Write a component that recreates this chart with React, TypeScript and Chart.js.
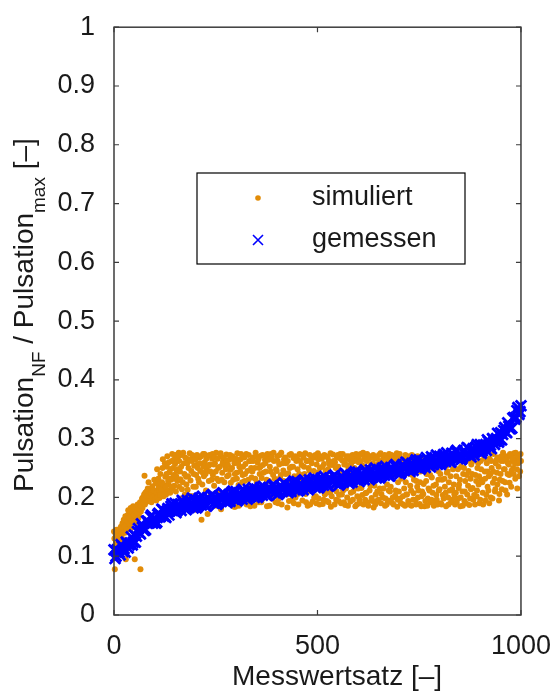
import React, { useEffect, useRef } from "react";
import { Chart, registerables } from "chart.js";

Chart.register(...registerables);

// ---------- data ----------
const xTickValues = [0, 500, 1000];
const yTickValues = [0, 0.1, 0.2, 0.3, 0.4, 0.5, 0.6, 0.7, 0.8, 0.9, 1];

const xTitle = "Messwertsatz [–]";
const legendLabels = ["simuliert", "gemessen"];

// measured values, one per 5 Messwertsätze (0, 5, 10, ... 1000)
const gemessenStep = 5;
const gemessen = [
  0.111, 0.100, 0.109, 0.102, 0.117, 0.113, 0.124, 0.114, 0.123, 0.119,
  0.136, 0.134, 0.147, 0.138, 0.149, 0.144, 0.160, 0.156, 0.167, 0.156,
  0.165, 0.158, 0.173, 0.168, 0.179, 0.168, 0.177, 0.170, 0.185, 0.179,
  0.190, 0.178, 0.186, 0.178, 0.192, 0.186, 0.195, 0.183, 0.191, 0.182,
  0.196, 0.190, 0.199, 0.187, 0.194, 0.186, 0.200, 0.193, 0.203, 0.190,
  0.198, 0.190, 0.203, 0.197, 0.206, 0.194, 0.202, 0.193, 0.207, 0.200,
  0.210, 0.198, 0.205, 0.197, 0.210, 0.204, 0.214, 0.201, 0.209, 0.200,
  0.214, 0.207, 0.217, 0.204, 0.212, 0.204, 0.217, 0.211, 0.220, 0.208,
  0.215, 0.207, 0.220, 0.214, 0.223, 0.211, 0.218, 0.210, 0.224, 0.217,
  0.227, 0.214, 0.222, 0.213, 0.227, 0.220, 0.230, 0.218, 0.225, 0.217,
  0.230, 0.224, 0.233, 0.221, 0.228, 0.220, 0.233, 0.227, 0.236, 0.224,
  0.231, 0.223, 0.236, 0.230, 0.240, 0.227, 0.235, 0.226, 0.240, 0.233,
  0.243, 0.231, 0.238, 0.230, 0.243, 0.237, 0.247, 0.234, 0.242, 0.233,
  0.247, 0.241, 0.250, 0.238, 0.246, 0.237, 0.251, 0.245, 0.254, 0.242,
  0.250, 0.242, 0.256, 0.249, 0.259, 0.247, 0.255, 0.246, 0.260, 0.254,
  0.264, 0.252, 0.259, 0.251, 0.265, 0.259, 0.269, 0.256, 0.264, 0.256,
  0.270, 0.264, 0.273, 0.261, 0.269, 0.261, 0.275, 0.268, 0.278, 0.266,
  0.274, 0.266, 0.280, 0.274, 0.284, 0.272, 0.280, 0.272, 0.286, 0.280,
  0.290, 0.279, 0.287, 0.280, 0.295, 0.289, 0.300, 0.290, 0.300, 0.294,
  0.310, 0.307, 0.319, 0.310, 0.321, 0.317, 0.335, 0.333, 0.348, 0.341,
  0.356,
];

// measured values in between (2.5, 7.5, ... 997.5)
const gemessenZwischen = [
  0.096, 0.111, 0.107, 0.120, 0.108, 0.107, 0.122, 0.119, 0.133, 0.124,
  0.124, 0.142, 0.140, 0.155, 0.145, 0.145, 0.160, 0.157, 0.170, 0.158,
  0.156, 0.171, 0.167, 0.180, 0.168, 0.166, 0.181, 0.177, 0.189, 0.177,
  0.174, 0.188, 0.183, 0.195, 0.182, 0.179, 0.192, 0.187, 0.199, 0.185,
  0.182, 0.196, 0.190, 0.202, 0.188, 0.185, 0.199, 0.193, 0.205, 0.191,
  0.188, 0.202, 0.196, 0.208, 0.194, 0.191, 0.205, 0.199, 0.211, 0.197,
  0.194, 0.208, 0.202, 0.214, 0.200, 0.197, 0.211, 0.205, 0.217, 0.203,
  0.200, 0.213, 0.208, 0.219, 0.206, 0.203, 0.216, 0.211, 0.222, 0.209,
  0.205, 0.219, 0.213, 0.225, 0.211, 0.208, 0.221, 0.216, 0.228, 0.214,
  0.211, 0.224, 0.219, 0.230, 0.217, 0.213, 0.227, 0.222, 0.233, 0.220,
  0.216, 0.230, 0.224, 0.236, 0.222, 0.219, 0.232, 0.227, 0.238, 0.225,
  0.221, 0.235, 0.229, 0.241, 0.228, 0.224, 0.238, 0.232, 0.244, 0.230,
  0.227, 0.241, 0.235, 0.247, 0.233, 0.230, 0.244, 0.238, 0.250, 0.236,
  0.233, 0.247, 0.241, 0.253, 0.240, 0.236, 0.250, 0.245, 0.256, 0.243,
  0.240, 0.254, 0.249, 0.260, 0.247, 0.244, 0.258, 0.252, 0.264, 0.251,
  0.248, 0.262, 0.256, 0.268, 0.255, 0.252, 0.266, 0.260, 0.272, 0.259,
  0.256, 0.270, 0.264, 0.276, 0.263, 0.260, 0.274, 0.268, 0.280, 0.267,
  0.264, 0.278, 0.273, 0.285, 0.272, 0.269, 0.283, 0.278, 0.290, 0.277,
  0.275, 0.289, 0.285, 0.298, 0.285, 0.283, 0.298, 0.295, 0.309, 0.298,
  0.298, 0.314, 0.312, 0.327, 0.317, 0.318, 0.336, 0.336, 0.353, 0.346,
];

// simulated values: [Messwertsatz, value]
const simuliertStart: [number, number][] = [
  [0, 0.142], [2, 0.078], [3, 0.118], [5, 0.125], [6, 0.145], [8, 0.132], [10, 0.128],
  [12, 0.138], [14, 0.125], [15, 0.135], [18, 0.142], [20, 0.130], [22, 0.148], [25, 0.155],
  [27, 0.140], [29, 0.095], [30, 0.162], [32, 0.150], [34, 0.170], [36, 0.158], [38, 0.176],
  [40, 0.165], [42, 0.148], [44, 0.172], [46, 0.180], [48, 0.162], [50, 0.175], [51, 0.095],
  [53, 0.168], [55, 0.182], [57, 0.157], [59, 0.178], [61, 0.170], [63, 0.185], [65, 0.078],
  [66, 0.176], [68, 0.190], [70, 0.182],
  [1, 0.130], [4, 0.138], [7, 0.120], [9, 0.142], [11, 0.134], [13, 0.146], [16, 0.128],
  [17, 0.150], [19, 0.138], [21, 0.156], [23, 0.140], [24, 0.162], [26, 0.150], [28, 0.168],
  [31, 0.145], [33, 0.160], [35, 0.178], [37, 0.166], [39, 0.155], [41, 0.182], [43, 0.160],
  [45, 0.175], [47, 0.185], [49, 0.170], [52, 0.180], [54, 0.160], [56, 0.175], [58, 0.188],
  [60, 0.165], [62, 0.180], [64, 0.192], [67, 0.186], [69, 0.198],
];

const simuliertRise: [number, number][] = [
  [72, 0.195], [74, 0.205], [75, 0.237], [76, 0.188], [78, 0.199], [80, 0.210], [82, 0.193],
  [84, 0.203], [85, 0.226], [86, 0.196], [88, 0.212], [90, 0.200], [92, 0.192], [94, 0.219],
  [95, 0.206], [97, 0.197], [99, 0.230], [100, 0.203], [102, 0.212], [104, 0.195], [106, 0.248],
  [108, 0.205], [110, 0.218], [112, 0.199], [114, 0.240], [116, 0.208], [118, 0.226], [120, 0.265],
  [122, 0.202], [124, 0.214], [126, 0.235], [128, 0.205], [130, 0.252], [132, 0.212], [134, 0.222],
  [136, 0.243], [138, 0.208], [140, 0.230], [142, 0.262], [144, 0.215], [146, 0.238], [148, 0.220],
  [150, 0.257], [152, 0.210], [154, 0.245], [156, 0.228], [158, 0.270], [160, 0.218],
  [71, 0.200], [73, 0.190], [77, 0.208], [79, 0.196], [81, 0.202], [83, 0.215], [87, 0.200],
  [89, 0.194], [91, 0.208], [93, 0.200], [96, 0.212], [98, 0.202], [101, 0.196], [103, 0.224],
  [105, 0.207], [107, 0.200], [109, 0.232], [111, 0.210], [113, 0.204], [115, 0.225], [117, 0.214],
  [119, 0.250], [121, 0.222], [123, 0.206], [125, 0.258], [127, 0.218], [129, 0.240], [131, 0.270],
  [133, 0.228], [135, 0.260], [137, 0.232], [139, 0.248], [141, 0.218], [143, 0.274], [145, 0.250],
  [147, 0.264], [149, 0.232], [151, 0.272], [153, 0.236], [155, 0.262], [157, 0.248], [159, 0.276],
];

const simuliertBand: [number, number][] = [
  [162, 0.244], [164, 0.198], [166, 0.272], [169, 0.226], [172, 0.258], [174, 0.205], [177, 0.235], [179, 0.266],
  [181, 0.213], [183, 0.250], [186, 0.275], [188, 0.229], [191, 0.262], [193, 0.202], [196, 0.240], [198, 0.270],
  [201, 0.218], [203, 0.255], [205, 0.178], [207, 0.232], [210, 0.268], [212, 0.245], [215, 0.162], [217, 0.222], [219, 0.274],
  [221, 0.236], [223, 0.260], [226, 0.212], [228, 0.248], [231, 0.271], [233, 0.228], [236, 0.256], [238, 0.205],
  [241, 0.266], [243, 0.238], [246, 0.220], [248, 0.258], [251, 0.276], [253, 0.232], [256, 0.250], [258, 0.210],
  [261, 0.270], [263, 0.180], [266, 0.242], [268, 0.262], [271, 0.226], [273, 0.254], [276, 0.273], [278, 0.236],
  [281, 0.214], [283, 0.264], [286, 0.247], [288, 0.190], [291, 0.270], [293, 0.230], [296, 0.258], [298, 0.184],
  [301, 0.242], [303, 0.275], [306, 0.221], [308, 0.252], [311, 0.265], [313, 0.196], [316, 0.238], [318, 0.270],
  [321, 0.228], [323, 0.257], [326, 0.188], [328, 0.245], [331, 0.272], [333, 0.218], [336, 0.262], [338, 0.234],
  [341, 0.268], [343, 0.200], [346, 0.250], [348, 0.276], [351, 0.226], [353, 0.259], [356, 0.192], [358, 0.240],
  [361, 0.271], [363, 0.233], [366, 0.255], [368, 0.207], [371, 0.264], [373, 0.244], [376, 0.185], [378, 0.268],
  [381, 0.228], [383, 0.252], [386, 0.274], [388, 0.198], [391, 0.238], [393, 0.262], [396, 0.215], [398, 0.248],
  [401, 0.270], [403, 0.190], [406, 0.256], [408, 0.233], [411, 0.276], [413, 0.203], [416, 0.246], [418, 0.265],
  [421, 0.222], [423, 0.258], [426, 0.183], [428, 0.241], [431, 0.272], [433, 0.209], [436, 0.252], [438, 0.196],
  [441, 0.267], [443, 0.236], [446, 0.200], [448, 0.262], [451, 0.248], [453, 0.188], [456, 0.274], [458, 0.213],
  [461, 0.255], [463, 0.195], [466, 0.268], [468, 0.240], [471, 0.206], [473, 0.262], [476, 0.186], [478, 0.250],
  [481, 0.272], [483, 0.211], [486, 0.258], [488, 0.193], [491, 0.245], [493, 0.268], [496, 0.202], [498, 0.256],
  [501, 0.275], [503, 0.198], [506, 0.250], [508, 0.212], [511, 0.266], [513, 0.189], [516, 0.257], [518, 0.205],
  [521, 0.270], [523, 0.194], [526, 0.248], [528, 0.262], [531, 0.208], [533, 0.184], [536, 0.255], [538, 0.273],
  [541, 0.215], [543, 0.260], [546, 0.196], [548, 0.268], [551, 0.252], [553, 0.204], [556, 0.274], [558, 0.190],
  [561, 0.263], [563, 0.212], [566, 0.256], [568, 0.187], [571, 0.270], [573, 0.200], [576, 0.248], [578, 0.265],
  [581, 0.193], [583, 0.258], [586, 0.272], [588, 0.210], [591, 0.250], [593, 0.185], [596, 0.266], [598, 0.202],
  [601, 0.260], [603, 0.196], [606, 0.274], [608, 0.216], [611, 0.254], [613, 0.188], [616, 0.268], [618, 0.207],
  [621, 0.262], [623, 0.192], [626, 0.250], [628, 0.212], [631, 0.270], [633, 0.199], [636, 0.258], [638, 0.183],
  [641, 0.266], [643, 0.205], [646, 0.194], [648, 0.256], [651, 0.272], [653, 0.215], [656, 0.190], [658, 0.262],
  [661, 0.200], [663, 0.268], [666, 0.186], [668, 0.258], [671, 0.222], [673, 0.195], [676, 0.274], [678, 0.210],
  [681, 0.264], [683, 0.191], [686, 0.235], [688, 0.270], [691, 0.203], [693, 0.256], [696, 0.184], [698, 0.226],
  [701, 0.268], [703, 0.198], [706, 0.232], [708, 0.260], [711, 0.188], [713, 0.215], [716, 0.272], [718, 0.205],
  [721, 0.246], [723, 0.194], [726, 0.266], [728, 0.220], [731, 0.186], [733, 0.238], [736, 0.207], [738, 0.262],
  [741, 0.196], [743, 0.228], [746, 0.270], [748, 0.212], [751, 0.189], [753, 0.244], [756, 0.202], [758, 0.258],
  [761, 0.223], [763, 0.185], [766, 0.265], [768, 0.240], [771, 0.198], [773, 0.215], [776, 0.250], [778, 0.192],
  [781, 0.234], [783, 0.208], [786, 0.186], [788, 0.262], [791, 0.222], [793, 0.196], [796, 0.245], [798, 0.212],
  [801, 0.255], [803, 0.190], [806, 0.230], [808, 0.204], [811, 0.268], [813, 0.218], [816, 0.185], [818, 0.242],
  [821, 0.200], [823, 0.226], [826, 0.258], [828, 0.192], [831, 0.214], [833, 0.248], [836, 0.206], [838, 0.188],
  [841, 0.236], [843, 0.265], [846, 0.198], [848, 0.222], [851, 0.185], [853, 0.252], [856, 0.210], [858, 0.240],
  [861, 0.194], [863, 0.228], [866, 0.262], [868, 0.205], [871, 0.245], [873, 0.187], [876, 0.232], [878, 0.256],
  [881, 0.216], [883, 0.196], [886, 0.268], [888, 0.238], [891, 0.202], [893, 0.250], [896, 0.222], [898, 0.190],
  [901, 0.262], [903, 0.230], [906, 0.208], [908, 0.272], [911, 0.244], [913, 0.195], [916, 0.258], [918, 0.218],
  [921, 0.236], [923, 0.266], [926, 0.200], [928, 0.250], [931, 0.225], [933, 0.274], [936, 0.210], [938, 0.258],
  [941, 0.242], [943, 0.268], [946, 0.195], [948, 0.230], [951, 0.262], [953, 0.214], [956, 0.276], [958, 0.248],
  [961, 0.226], [963, 0.270], [966, 0.205], [968, 0.258], [971, 0.238], [973, 0.274], [976, 0.218], [978, 0.262],
  [981, 0.250], [983, 0.275], [986, 0.232], [988, 0.266], [991, 0.215], [993, 0.258], [996, 0.272], [998, 0.244],
  [1000, 0.262],
];

const simuliertBand2: [number, number][] = [
  [160, 0.262], [163, 0.231], [165, 0.252], [167, 0.214], [170, 0.276], [173, 0.240], [175, 0.268], [178, 0.222],
  [180, 0.258], [182, 0.236], [185, 0.203], [187, 0.264], [190, 0.245], [192, 0.272], [195, 0.218], [197, 0.254],
  [200, 0.264], [202, 0.238], [204, 0.272], [206, 0.250], [209, 0.226], [211, 0.258], [214, 0.270], [218, 0.242],
  [220, 0.252], [222, 0.274], [225, 0.240], [227, 0.266], [230, 0.172], [232, 0.254], [235, 0.272], [237, 0.244],
  [240, 0.230], [242, 0.274], [245, 0.256], [247, 0.268], [250, 0.244], [252, 0.186], [255, 0.266], [257, 0.228],
  [260, 0.252], [262, 0.275], [265, 0.230], [267, 0.258], [270, 0.268], [272, 0.190], [275, 0.248], [277, 0.262],
  [280, 0.255], [282, 0.238], [285, 0.272], [287, 0.225], [290, 0.250], [292, 0.266], [295, 0.184], [297, 0.240],
  [300, 0.266], [302, 0.232], [305, 0.258], [307, 0.186], [310, 0.244], [312, 0.274], [315, 0.226], [317, 0.252],
  [320, 0.268], [322, 0.240], [325, 0.274], [327, 0.194], [330, 0.230], [332, 0.262], [335, 0.185], [337, 0.250],
  [340, 0.244], [342, 0.262], [345, 0.186], [347, 0.232], [350, 0.270], [352, 0.196], [355, 0.265], [357, 0.250],
  [360, 0.252], [362, 0.192], [365, 0.272], [367, 0.242], [370, 0.200], [372, 0.258], [375, 0.230], [377, 0.274],
  [380, 0.264], [382, 0.186], [385, 0.244], [387, 0.268], [390, 0.204], [392, 0.276], [395, 0.232], [397, 0.192],
  [400, 0.245], [402, 0.262], [405, 0.198], [407, 0.272], [410, 0.238], [412, 0.188], [415, 0.258], [417, 0.228],
  [420, 0.268], [422, 0.240], [425, 0.205], [427, 0.262], [430, 0.194], [432, 0.250], [435, 0.274], [437, 0.226],
  [440, 0.252], [442, 0.190], [445, 0.270], [447, 0.226], [450, 0.266], [452, 0.206], [455, 0.240], [457, 0.262],
  [460, 0.230], [462, 0.272], [465, 0.210], [467, 0.252], [470, 0.275], [472, 0.192], [475, 0.262], [477, 0.220],
  [480, 0.246], [482, 0.188], [485, 0.266], [487, 0.232], [490, 0.270], [492, 0.200], [495, 0.272], [497, 0.190],
  [500, 0.242], [502, 0.265], [505, 0.188], [507, 0.270], [510, 0.230], [512, 0.252], [515, 0.196], [517, 0.272],
  [520, 0.245], [522, 0.208], [525, 0.268], [527, 0.192], [530, 0.256], [532, 0.275], [535, 0.202], [537, 0.236],
  [540, 0.262], [542, 0.188], [545, 0.250], [547, 0.210], [550, 0.272], [552, 0.194], [555, 0.240], [557, 0.266],
  [560, 0.205], [562, 0.274], [565, 0.192], [567, 0.262], [570, 0.215], [572, 0.255], [575, 0.186], [577, 0.270],
  [580, 0.244], [582, 0.208], [585, 0.268], [587, 0.196], [590, 0.262], [592, 0.218], [595, 0.274], [597, 0.188],
  [600, 0.215], [602, 0.270], [605, 0.190], [607, 0.262], [610, 0.204], [612, 0.276], [615, 0.228], [617, 0.196],
  [620, 0.208], [622, 0.274], [625, 0.186], [627, 0.266], [630, 0.220], [632, 0.256], [635, 0.194], [637, 0.272],
  [640, 0.220], [642, 0.188], [645, 0.268], [647, 0.210], [650, 0.196], [652, 0.262], [655, 0.275], [657, 0.206],
  [660, 0.252], [662, 0.215], [665, 0.272], [667, 0.198], [670, 0.188], [672, 0.266], [675, 0.212], [677, 0.194],
  [680, 0.218], [682, 0.272], [685, 0.200], [687, 0.188], [690, 0.266], [692, 0.212], [695, 0.275], [697, 0.196],
  [700, 0.210], [702, 0.274], [705, 0.190], [707, 0.244], [710, 0.202], [712, 0.266], [715, 0.186], [717, 0.226],
  [720, 0.205], [722, 0.270], [725, 0.188], [727, 0.240], [730, 0.212], [732, 0.272], [735, 0.196], [737, 0.230],
  [740, 0.262], [742, 0.188], [745, 0.218], [747, 0.200], [750, 0.266], [752, 0.226], [755, 0.185], [757, 0.210],
  [760, 0.206], [762, 0.268], [765, 0.194], [767, 0.228], [770, 0.186], [772, 0.256], [775, 0.212], [777, 0.238],
  [780, 0.196], [782, 0.258], [785, 0.220], [787, 0.190], [790, 0.248], [792, 0.204], [795, 0.188], [797, 0.230],
  [800, 0.214], [802, 0.240], [805, 0.188], [807, 0.262], [810, 0.198], [812, 0.232], [815, 0.208], [817, 0.254],
  [820, 0.244], [822, 0.188], [825, 0.212], [827, 0.236], [830, 0.196], [832, 0.262], [835, 0.222], [837, 0.200],
  [840, 0.208], [842, 0.192], [845, 0.248], [847, 0.216], [850, 0.230], [852, 0.200], [855, 0.262], [857, 0.186],
  [860, 0.250], [862, 0.210], [865, 0.190], [867, 0.238], [870, 0.220], [872, 0.264], [875, 0.198], [877, 0.214],
  [880, 0.240], [882, 0.262], [885, 0.204], [887, 0.188], [890, 0.228], [892, 0.212], [895, 0.258], [897, 0.236],
  [900, 0.196], [902, 0.248], [905, 0.226], [907, 0.188], [910, 0.266], [912, 0.232], [915, 0.204], [917, 0.244],
  [920, 0.212], [922, 0.190], [925, 0.240], [927, 0.262], [930, 0.198], [932, 0.244], [935, 0.232], [937, 0.214],
  [940, 0.264], [942, 0.222], [945, 0.252], [947, 0.206], [950, 0.240], [952, 0.270], [955, 0.228], [957, 0.262],
  [960, 0.248], [962, 0.212], [965, 0.266], [967, 0.240], [970, 0.256], [972, 0.225], [975, 0.270], [977, 0.246],
  [980, 0.266], [982, 0.240], [985, 0.258], [987, 0.276], [990, 0.248], [992, 0.270], [995, 0.236], [997, 0.262],
  [999, 0.274],
];

// ---------- styling ----------
const ORANGE = "rgb(226,140,8)";
const BLUE = "rgb(0,0,255)";
const FRAME = "#3c3c3c";
const TEXT = "#1a1a1a";
const FONT = "'Liberation Sans', Arial, Helvetica, sans-serif";

const decorations = {
  id: "decorations",
  afterDatasetsDraw(chart: any) {
    const { ctx, chartArea, scales } = chart;
    const { left, right, top, bottom } = chartArea;
    ctx.save();
    // frame
    ctx.strokeStyle = FRAME;
    ctx.lineWidth = 1.5;
    ctx.strokeRect(left, top, right - left, bottom - top);
    // inward ticks
    ctx.lineWidth = 1.2;
    const tl = 5;
    ctx.beginPath();
    yTickValues.forEach((v) => {
      const y = scales.y.getPixelForValue(v);
      ctx.moveTo(left, y);
      ctx.lineTo(left + tl, y);
      ctx.moveTo(right, y);
      ctx.lineTo(right - tl, y);
    });
    xTickValues.forEach((v) => {
      const x = scales.x.getPixelForValue(v);
      ctx.moveTo(x, bottom);
      ctx.lineTo(x, bottom - tl);
      ctx.moveTo(x, top);
      ctx.lineTo(x, top + tl);
    });
    ctx.stroke();

    // legend box
    const lx = 197, ly = 173, lw = 268, lh = 91;
    ctx.fillStyle = "#ffffff";
    ctx.fillRect(lx, ly, lw, lh);
    ctx.strokeStyle = "#000000";
    ctx.lineWidth = 1.2;
    ctx.strokeRect(lx, ly, lw, lh);
    // legend markers
    ctx.fillStyle = ORANGE;
    ctx.beginPath();
    ctx.arc(258, 198, 2.8, 0, Math.PI * 2);
    ctx.fill();
    ctx.strokeStyle = BLUE;
    ctx.lineWidth = 1.6;
    ctx.beginPath();
    ctx.moveTo(253, 235);
    ctx.lineTo(263, 245);
    ctx.moveTo(263, 235);
    ctx.lineTo(253, 245);
    ctx.stroke();
    // legend text
    ctx.fillStyle = TEXT;
    ctx.font = `27px ${FONT}`;
    ctx.textAlign = "left";
    ctx.textBaseline = "middle";
    ctx.fillText(legendLabels[0], 312, 198);
    ctx.fillText(legendLabels[1], 312, 240);

    // x axis title
    ctx.font = `28px ${FONT}`;
    ctx.textBaseline = "alphabetic";
    ctx.fillText(xTitle, 232, 685);

    // y axis title with subscripts
    ctx.translate(33, 492);
    ctx.rotate(-Math.PI / 2);
    const parts: [string, boolean][] = [
      ["Pulsation", false],
      ["NF", true],
      [" / Pulsation", false],
      ["max", true],
      [" [–]", false],
    ];
    let px = 0;
    parts.forEach(([t, sub]) => {
      ctx.font = sub ? `19px ${FONT}` : `28px ${FONT}`;
      ctx.fillText(t, px, sub ? 12 : 0);
      px += ctx.measureText(t).width;
    });
    ctx.restore();
  },
};

export default function App() {
  const ref = useRef<HTMLCanvasElement | null>(null);

  useEffect(() => {
    if (!ref.current) return;
    const simuliert = [...simuliertStart, ...simuliertRise, ...simuliertBand, ...simuliertBand2];
    const gemessenPunkte = [
      ...gemessen.map((v, i) => ({ x: i * gemessenStep, y: v })),
      ...gemessenZwischen.map((v, i) => ({ x: i * gemessenStep + gemessenStep / 2, y: v })),
    ];
    const chart = new Chart(ref.current, {
      type: "scatter",
      data: {
        datasets: [
          {
            label: legendLabels[1],
            data: gemessenPunkte,
            pointStyle: "crossRot",
            pointRadius: 7.5,
            borderColor: BLUE,
            backgroundColor: BLUE,
            borderWidth: 2.8,
            order: 0,
            clip: false as any,
          },
          {
            label: legendLabels[0],
            data: simuliert.map(([x, y]) => ({ x, y })),
            pointStyle: "circle",
            pointRadius: 3,
            borderWidth: 0,
            backgroundColor: ORANGE,
            borderColor: ORANGE,
            order: 1,
            clip: false as any,
          },
        ],
      },
      options: {
        animation: false,
        responsive: false,
        devicePixelRatio: 1,
        events: [],
        layout: { padding: { left: 0, top: 16, right: 34, bottom: 0 } },
        plugins: { legend: { display: false }, tooltip: { enabled: false } },
        scales: {
          x: {
            type: "linear",
            min: 0,
            max: 1000,
            afterFit: (s: any) => {
              s.height = 79;
            },
            afterBuildTicks: (s: any) => {
              s.ticks = xTickValues.map((v) => ({ value: v }));
            },
            ticks: {
              font: { family: FONT, size: 27 },
              color: TEXT,
              padding: 7,
              maxRotation: 0,
              callback: (v: any) => String(v),
            },
            grid: { display: false },
            border: { display: false },
          },
          y: {
            type: "linear",
            min: 0,
            max: 1,
            afterFit: (s: any) => {
              s.width = 114;
            },
            afterBuildTicks: (s: any) => {
              s.ticks = yTickValues.map((v) => ({ value: v }));
            },
            ticks: {
              font: { family: FONT, size: 27 },
              color: TEXT,
              padding: 11,
              callback: (v: any) => String(Number(Number(v).toFixed(1))),
            },
            grid: { display: false },
            border: { display: false },
          },
        },
      },
      plugins: [decorations],
    });
    return () => chart.destroy();
  }, []);

  return (
    <canvas
      ref={ref}
      width={558}
      height={694}
      style={{ position: "absolute", left: 0, top: 0, width: "558px", height: "694px" }}
    />
  );
}
